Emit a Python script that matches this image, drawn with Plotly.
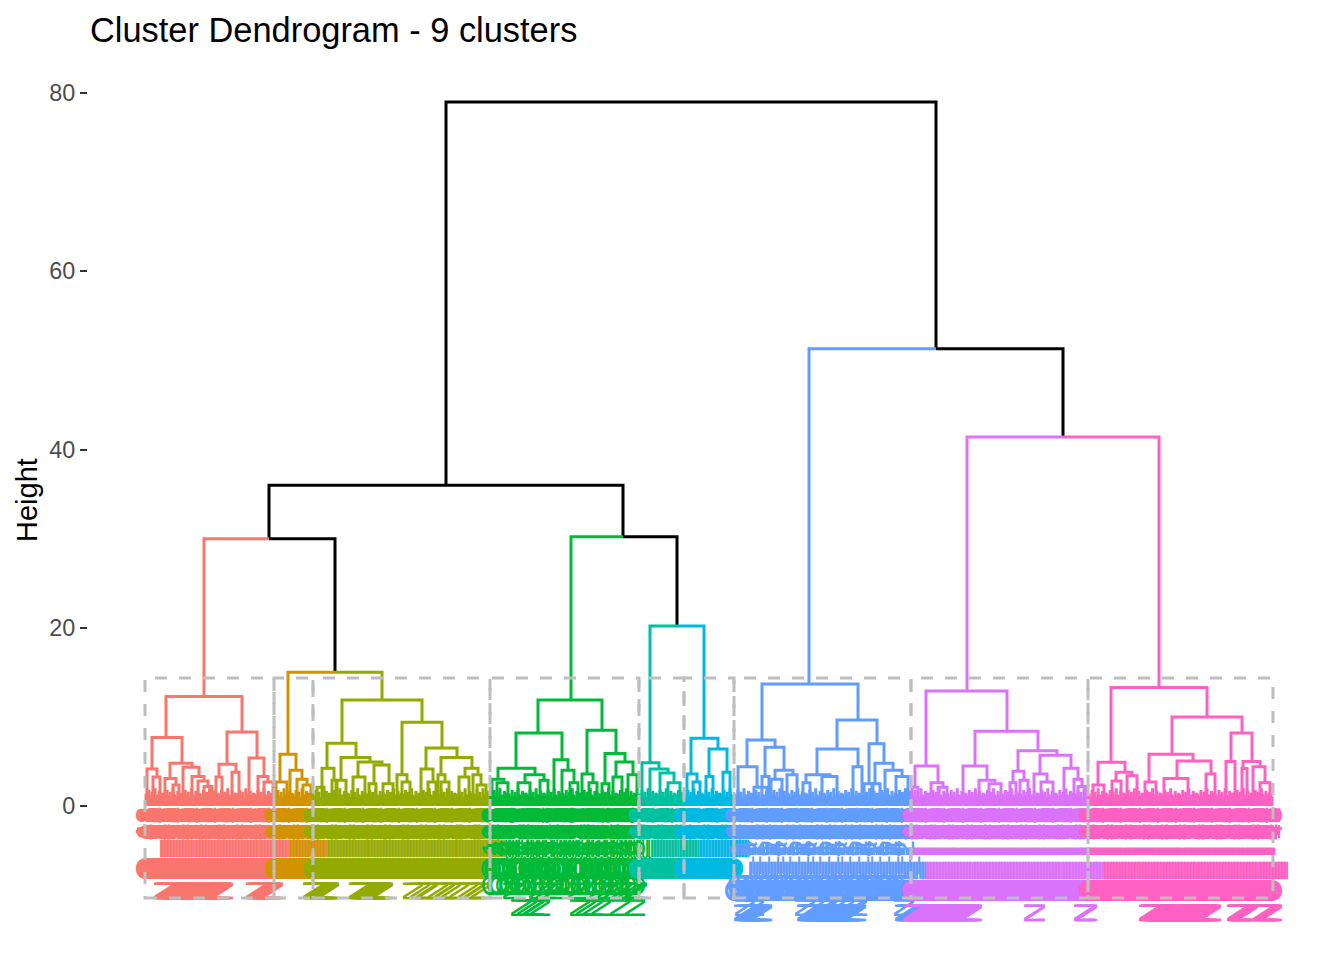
import itertools
import numpy as np
import plotly.graph_objects as go

TITLE = "Cluster Dendrogram - 9 clusters"
NAMES = ["red", "orange", "olive", "green", "teal", "cyan", "blue", "purple", "pink"]
COLORS = ["#F8766D", "#D39200", "#93AA00", "#00BA38", "#00C19F", "#00B9E3", "#619CFF", "#DB72FB", "#FF61C3"]
LEAF_START = [146, 275, 313, 491, 639, 685, 735, 912, 1089]
LEAF_END = [273, 311, 489, 637, 683, 733, 910, 1087, 1272]
LEAF_COUNT = [85, 25, 119, 98, 30, 33, 118, 117, 122]
RECT_LEFT = [145, 274, 313, 490, 639, 684, 734, 911, 1088]
RECT_RIGHT = [274, 313, 490, 639, 684, 734, 911, 1088, 1273]
RECT_TOP = 14.36
RECT_BOTTOM = -10.32
Y_TICKS = [0, 20, 40, 60, 80]
BUSH_HEIGHTS = [1.4, 1.1, 1.8, 1.2, 1.6, 1.0, 2.0, 1.3, 1.1, 1.7, 1.2, 1.5]
SHORT_IDS = ["12", "48", "03", "86", "25", "69", "30", "54", "17", "92", "41", "76"]
HY = "\u2009-\u2009"
BLUE_IDS = [HY + "12", HY + "48", "128", HY + "03", HY + "86", HY + "25", HY + "69", "406", HY + "30", HY + "54",
            HY + "17", HY + "92", HY + "41", "253", HY + "76", HY + "12", HY + "48", HY + "03", HY + "86", "614"]
GREEN_IDS = ["12", "128", "48", "03", "406", "86", "253", "25", "69", "30", "987", "54", "614", "370",
             "17", "92", "859", "41", "76", "142", "736", "12", "48", "605", "128", "03", "86", "25",
             "406", "253", "69", "30", "54", "987", "17", "614", "92", "41", "370", "76"]
LABEL_PREFIX = ["O_", "O_", "O_", "O_", "O_", "O_", "O_", "O_" + HY, "O_" + HY]
LABEL_IDS = [SHORT_IDS, SHORT_IDS, SHORT_IDS, GREEN_IDS, SHORT_IDS, SHORT_IDS, BLUE_IDS, SHORT_IDS, SHORT_IDS]
# leaf intervals whose labels start with the extra letter N
N_RUNS = {
    "red": [(164, 224), (256, 273)],
    "olive": [(313, 330), (358, 384), (412, 414), (419, 421), (426, 428), (437, 439), (444, 446), (451, 453),
              (458, 460), (467, 469), (474, 476), (481, 483)],
    "green": [(513, 515), (520, 522), (526, 528), (533, 535), (539, 541), (546, 548), (553, 555),
              (578, 580), (585, 587), (592, 594), (599, 601), (606, 608), (613, 615),
              (620, 622), (627, 629), (633, 637)],
    "blue": [(743, 762), (804, 858), (904, 910)],
    "purple": [(913, 973), (1034, 1037), (1083, 1087)],
    "pink": [(1148, 1212), (1236, 1248), (1262, 1272)],
}

# top part of the tree: bars in black; (left, right, height)
BLACK_BARS = [(446, 936, 79.0), (269, 623, 36.0)]
# half bars: (outer x carrying a leg, inner x, height)
BLACK_HALF = [(335, 269, 30.0), (677, 623, 30.2), (1063, 936, 51.3)]
CLUSTER_HALF = {
    "red": [(204, 269, 30.0)], "orange": [(288, 335, 15.0)], "olive": [(382, 335, 15.0)],
    "green": [(571, 623, 30.2)], "teal": [(650, 677, 20.2)], "cyan": [(704, 677, 20.2)],
    "blue": [(809, 936, 51.3)], "purple": [(967, 1063, 41.4)], "pink": [(1159, 1063, 41.4)],
}
CLUSTER_BARS = {
    "red": [(166, 242, 12.3), (152, 182, 7.7), (147, 157, 4.15), (153, 160, 3.25), (170, 192, 4.8),
            (165, 176, 3.1), (173, 179, 2.35), (183, 199, 4.35), (192, 204, 3.3), (198, 208, 2.8),
            (204, 212, 2.2), (227, 257, 8.3), (219, 236, 4.7), (216, 222, 3.25), (232, 239, 3.8),
            (249, 264, 5.4), (258, 268, 3.3), (264, 273, 2.7)],
    "orange": [(280, 296, 5.8), (276, 287, 2.7), (290, 302, 4.0), (297, 307, 3.0), (303, 311, 2.35)],
    "olive": [(342, 422, 11.9), (327, 356, 7.05), (322, 334, 4.25), (317, 324, 2.1), (332, 336, 2.9),
              (341, 370, 5.45), (337, 346, 2.9), (358, 382, 4.95), (353, 365, 3.25), (374, 389, 4.6),
              (369, 376, 2.5), (383, 393, 2.5), (402, 442, 9.4), (397, 407, 3.5), (402, 410, 2.7),
              (426, 457, 6.5), (421, 433, 4.15), (428, 436, 2.7), (441, 472, 5.45), (438, 445, 3.5),
              (441, 449, 2.7), (465, 478, 4.25), (459, 469, 3.25), (473, 481, 3.5), (477, 486, 2.35)],
    "green": [(538, 602, 11.9), (516, 562, 8.2), (498, 535, 4.25), (492, 504, 3.0), (497, 508, 2.6),
              (525, 544, 3.5), (518, 530, 2.6), (540, 548, 2.9), (554, 568, 5.2), (562, 574, 4.0),
              (570, 578, 2.6), (587, 616, 8.5), (582, 593, 3.6), (589, 597, 2.6), (605, 625, 5.9),
              (602, 609, 2.5), (616, 633, 4.95), (613, 622, 3.25), (628, 637, 3.5)],
    "teal": [(642, 659, 4.85), (650, 668, 4.15), (660, 674, 3.7), (668, 680, 2.6)],
    "cyan": [(691, 718, 7.6), (687, 697, 3.6), (693, 700, 2.7), (709, 727, 6.4), (706, 713, 3.3), (723, 730, 3.8)],
    "blue": [(762, 858, 13.7), (747, 775, 7.4), (738, 757, 4.4), (754, 767, 2.1), (765, 784, 6.6),
             (762, 769, 3.3), (775, 793, 4.0), (771, 782, 3.0), (787, 797, 3.5), (837, 877, 9.65),
             (817, 858, 6.4), (806, 830, 3.5), (803, 810, 2.6), (822, 837, 3.3), (853, 862, 4.4),
             (869, 884, 7.0), (864, 873, 2.5), (875, 893, 4.8), (872, 880, 2.5), (885, 902, 4.0),
             (896, 908, 3.3)],
    "purple": [(926, 1007, 12.9), (915, 938, 4.5), (912, 918, 2.1), (931, 943, 2.6), (938, 947, 2.1),
               (975, 1038, 8.4), (963, 987, 4.5), (979, 995, 2.9), (989, 1001, 2.5), (1018, 1057, 6.2),
               (1013, 1024, 3.9), (1010, 1016, 2.6), (1020, 1028, 2.9), (1040, 1071, 5.7), (1034, 1047, 3.6),
               (1041, 1053, 2.7), (1064, 1078, 4.25), (1074, 1082, 3.0), (1078, 1086, 2.2)],
    "pink": [(1111, 1207, 13.3), (1098, 1125, 4.9), (1093, 1104, 2.35), (1116, 1132, 3.8), (1112, 1121, 2.8),
             (1127, 1137, 3.4), (1172, 1242, 10.0), (1149, 1193, 5.8), (1145, 1156, 2.7), (1177, 1211, 5.05),
             (1164, 1188, 3.1), (1206, 1215, 3.6), (1231, 1252, 8.2), (1226, 1235, 5.0), (1243, 1260, 5.0),
             (1242, 1247, 4.2), (1253, 1265, 4.4), (1260, 1270, 2.6)],
}

X_RANGE = [88, 1300]
Y_RANGE = [-13.91, 83.70]
LABEL_AXIS_Y = 0.7
LABEL_AXIS_POS = (LABEL_AXIS_Y - Y_RANGE[0]) / (Y_RANGE[1] - Y_RANGE[0])

all_bars = BLACK_BARS + [(min(a, b), max(a, b), h) for a, b, h in BLACK_HALF]
for n in NAMES:
    all_bars += CLUSTER_BARS[n]
    all_bars += [(min(a, b), max(a, b), h) for a, b, h in CLUSTER_HALF[n]]


def leg_bottom(x, h):
    below = [b[2] for b in all_bars if b[0] <= x <= b[1] and b[2] < h]
    return max(below) if below else 1.0


def bar_path(bars, half):
    xs, ys = [], []
    for l, r, h in bars:
        xs += [l, l, r, r, None]
        ys += [leg_bottom(l, h), h, h, leg_bottom(r, h), None]
    for o, i, h in half:
        xs += [o, o, i, None]
        ys += [leg_bottom(o, h), h, h, None]
    return xs, ys


fig = go.Figure()
xs, ys = bar_path(BLACK_BARS, BLACK_HALF)
fig.add_trace(go.Scatter(x=xs, y=ys, mode="lines", line=dict(color="black", width=3), hoverinfo="skip", showlegend=False))

layout_axes = {}
for i, n in enumerate(NAMES):
    leaves = [float(v) for v in np.linspace(LEAF_START[i], LEAF_END[i], LEAF_COUNT[i])]
    xs, ys = bar_path(CLUSTER_BARS[n], CLUSTER_HALF[n])
    for x, h in zip(leaves, itertools.cycle(BUSH_HEIGHTS)):
        xs += [x, x, None]
        ys += [0, h, None]
    ax = f"x{i + 2}"
    fig.add_trace(go.Scatter(x=xs, y=ys, xaxis=ax, mode="lines", line=dict(color=COLORS[i], width=3),
                             hoverinfo="skip", showlegend=False))
    labels = []
    for x, s in zip(leaves, itertools.cycle(LABEL_IDS[i])):
        z = "N" if any(a <= x <= b for a, b in N_RUNS.get(n, [])) else ""
        labels.append(z + LABEL_PREFIX[i] + s)
    layout_axes[f"xaxis{i + 2}"] = dict(
        overlaying="x", anchor="free", position=LABEL_AXIS_POS, range=X_RANGE, side="bottom",
        tickmode="array", tickvals=leaves, ticktext=labels, tickangle=-90,
        ticks="", showgrid=False, zeroline=False, showline=False,
        tickfont=dict(family="Liberation Sans", size=30, color=COLORS[i]),
    )

shapes = [dict(type="rect", xref="x", yref="y", x0=l, x1=r, y0=RECT_BOTTOM, y1=RECT_TOP, layer="above",
               line=dict(color="#BEBEBE", width=3, dash="12px,12px"))
          for l, r in zip(RECT_LEFT, RECT_RIGHT)]

fig.update_layout(
    width=1336, height=952, paper_bgcolor="white", plot_bgcolor="white",
    margin=dict(l=80, r=44, t=52, b=30), showlegend=False, shapes=shapes,
    font=dict(family="Liberation Sans"),
    title=dict(text=TITLE, x=82 / 1336, xanchor="left", y=1 - 22 / 952, yanchor="middle",
               font=dict(family="Liberation Sans", size=34.4, color="black")),
    xaxis=dict(range=X_RANGE, visible=False, showgrid=False, zeroline=False),
    yaxis=dict(range=Y_RANGE, tickmode="array", tickvals=Y_TICKS, ticks="outside", ticklen=7, tickwidth=2,
               tickcolor="#333333", showgrid=False, zeroline=False, showline=False,
               tickfont=dict(family="Liberation Sans", size=23.4, color="#4D4D4D")),
    annotations=[dict(text="Height", textangle=-90, xref="paper", yref="paper", x=-61 / 1212, y=1 - 440 / 870,
                      xanchor="center", yanchor="middle", showarrow=False,
                      font=dict(family="Liberation Sans", size=29, color="black"))],
    **layout_axes,
)
fig.write_html("out.html")
